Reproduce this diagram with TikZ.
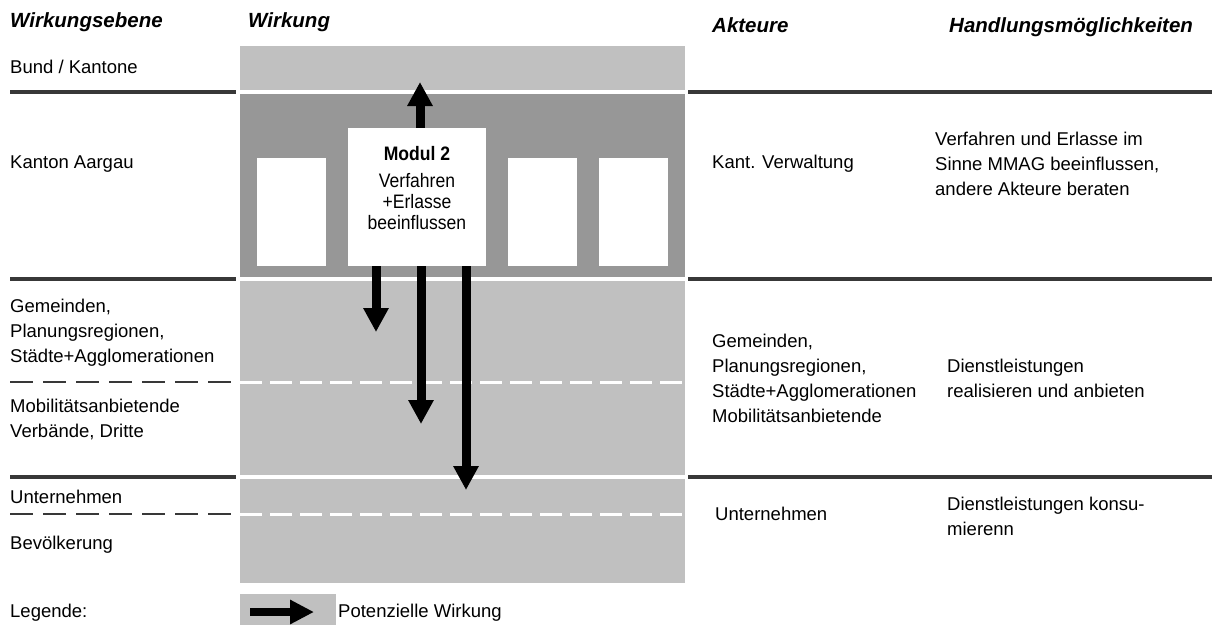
\documentclass[tikz,border=0pt]{standalone}
\usepackage{fontspec}
\setmainfont{Liberation Sans}
\newfontfamily\narrowsans[FakeStretch=0.9]{Liberation Sans}
\usetikzlibrary{arrows.meta}
\definecolor{bandlight}{HTML}{C0C0C0}
\definecolor{banddark}{HTML}{979797}
\definecolor{rulegray}{HTML}{383838}

\begin{document}
\begin{tikzpicture}[x=1pt,y=-1pt,
  % multi-line texts are placed by the baseline of their last line
  txt/.style={anchor=base west, inner sep=0pt, align=left, font=\fontsize{18.5}{25}\selectfont},
  hdr/.style={anchor=base west, inner sep=0pt, font=\fontsize{20.5}{24}\selectfont\bfseries\itshape},
  rule/.style={draw=rulegray, line width=3.5pt},
  dashrule/.style={draw=rulegray, line width=2.5pt, dash pattern=on 23pt off 10pt},
  whiteline/.style={draw=white, line width=3.5pt},
  whitedash/.style={draw=white, line width=3pt, dash pattern=on 22pt off 8pt},
  blank/.style={fill=white, inner sep=0pt},
  effect/.style={line width=9pt, -{Triangle[length=24pt,width=24pt]}},
]
\useasboundingbox (0,0) rectangle (1216,625);

% column headers
\node[hdr] (h1) at (10,27) {Wirkungsebene};
\node[hdr] (h2) at (248,27) {Wirkung};
\node[hdr] (h3) at (712,32) {Akteure};
\node[hdr] (h4) at (949,32) {Handlungsmöglichkeiten};

% level bands
\fill[bandlight] (240,46) rectangle (685,583);
\fill[banddark] (240,92) rectangle (685,279);
\draw[whiteline] (240,92) -- (685,92);
\draw[whiteline] (240,279) -- (685,279);
\draw[whitedash] (240,382) -- (685,382);
\draw[whiteline] (240,477) -- (685,477);
\draw[whitedash] (240,514) -- (685,514);

% separators left and right of the bands
\draw[rule] (10,92) -- (236,92);
\draw[rule] (688,92) -- (1212,92);
\draw[rule] (10,279) -- (236,279);
\draw[rule] (688,279) -- (1212,279);
\draw[dashrule] (10,382) -- (236,382);
\draw[rule] (10,477) -- (236,477);
\draw[rule] (688,477) -- (1212,477);
\draw[dashrule] (10,514) -- (236,514);

% modules
\node[blank, minimum width=69pt, minimum height=108pt] (b1) at (291.5,212) {};
\node[blank, minimum width=138pt, minimum height=138pt] (m) at (417,197) {};
\node[blank, minimum width=69pt, minimum height=108pt] (b3) at (542.5,212) {};
\node[blank, minimum width=69pt, minimum height=108pt] (b4) at (633.5,212) {};
\node[anchor=base, inner sep=0pt, align=center, font=\narrowsans\fontsize{19.5}{21}\selectfont] (mt) at (417,229)
  {\textbf{Modul 2}\\[6pt] Verfahren\\ +Erlasse\\ beeinflussen};

% effects of module 2
\coordinate (tup) at (420,82);
\coordinate (td1) at (376,332);
\coordinate (td2) at (421,424);
\coordinate (td3) at (466,490);
\draw[effect] (m.north -| tup) -- (tup);
\draw[effect] (m.south -| td1) -- (td1);
\draw[effect] (m.south -| td2) -- (td2);
\draw[effect] (m.south -| td3) -- (td3);

% levels
\node[txt] (l1) at (10,73) {Bund / Kantone};
\node[txt] (l2) at (10,168) {Kanton Aargau};
\node[txt] (l3) at (10,362) {Gemeinden,\\Planungsregionen,\\Städte+Agglomerationen};
\node[txt] (l4) at (10,437) {Mobilitätsanbietende\\Verbände, Dritte};
\node[txt] (l5) at (10,503) {Unternehmen};
\node[txt] (l6) at (10,549) {Bevölkerung};

% actors
\node[txt] (a2) at (712,168) {Kant. Verwaltung};
\node[txt] (a3) at (712,422) {Gemeinden,\\Planungsregionen,\\Städte+Agglomerationen\\Mobilitätsanbietende};
\node[txt] (a5) at (715,520) {Unternehmen};

% options for action
\node[txt] (o2) at (935,195) {Verfahren und Erlasse im\\Sinne MMAG beeinflussen,\\andere Akteure beraten};
\node[txt] (o3) at (947,397) {Dienstleistungen\\realisieren und anbieten};
\node[txt] (o5) at (947,535) {Dienstleistungen konsu-\\mierenn};

% legend
\node[txt] (lg) at (10,617) {Legende:};
\fill[bandlight] (240,594) rectangle (336,625);
\coordinate (ls) at (250,612);
\coordinate (le) at (314,612);
\draw[line width=8pt, -{Triangle[length=24pt,width=23pt]}] (ls) -- (le);
\node[txt] (lt) at (338,617) {Potenzielle Wirkung};
\end{tikzpicture}
\end{document}
